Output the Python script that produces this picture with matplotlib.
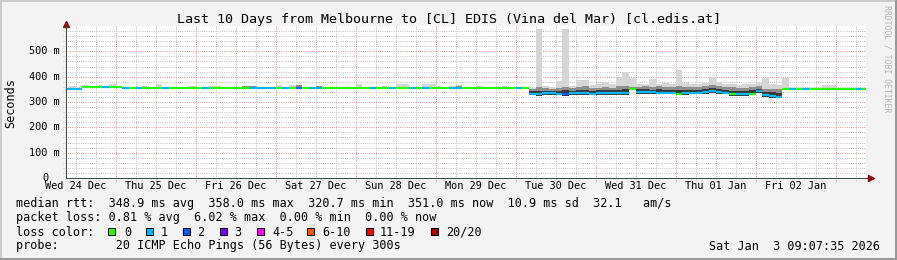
import numpy as np
import matplotlib
matplotlib.use("Agg")
import matplotlib.pyplot as plt
from matplotlib.patches import Rectangle
from matplotlib.transforms import blended_transform_factory

plt.rcParams['font.family'] = ['DejaVu Sans Mono']

W, H = 897, 260

# time axis: hours since Wed 24 Dec 00:00, one 2-hour bin per value
bin_start = np.arange(8, 250, 2)
t_start, t_end = 9.12, 249.12

day_hours = [12, 36, 60, 84, 108, 132, 156, 180, 204, 228]
day_labels = ['Wed 24 Dec', 'Thu 25 Dec', 'Fri 26 Dec', 'Sat 27 Dec', 'Sun 28 Dec',
              'Mon 29 Dec', 'Tue 30 Dec', 'Wed 31 Dec', 'Thu 01 Jan', 'Fri 02 Jan']

# median rtt per bin (ms)
median = [
    350, 350, 353, 358, 358, 358, 358, 358, 358, 355,
    355, 355, 355, 355, 355, 355, 355, 355, 355, 355,
    355, 355, 355, 355, 355, 355, 355, 355, 355, 355,
    355, 355, 355, 355, 355, 355, 355, 355, 355, 355,
    355, 355, 355, 355, 355, 355, 355, 355, 355, 355,
    355, 355, 355, 355, 355, 355, 355, 355, 355, 355,
    355, 355, 355, 355, 355, 355, 355, 355, 355, 355,
    333, 332, 334, 335, 333, 331, 335, 334, 336, 333,
    334, 336, 335, 336, 336, 351, 340, 339, 338, 337,
    337, 337, 333, 336, 337, 337, 338, 344, 340, 337,
    331, 331, 331, 333, 343, 326, 323, 321, 353, 353,
    353, 353, 353, 353, 353, 353, 353, 353, 353, 352,
    351,
]

# lost pings (of 20) per bin
loss = [
    1, 1, 1, 0, 0, 0, 1, 0, 0, 1,
    0, 1, 0, 0, 0, 1, 0, 0, 0, 0,
    0, 1, 0, 0, 0, 0, 0, 0, 1, 1,
    1, 1, 0, 1, 0, 2, 0, 1, 1, 0,
    0, 0, 0, 0, 0, 0, 1, 0, 0, 1,
    0, 0, 1, 0, 1, 0, 0, 0, 1, 1,
    0, 0, 0, 0, 0, 0, 0, 0, 1, 0,
    1, 1, 1, 1, 1, 2, 1, 1, 1, 1,
    1, 1, 1, 1, 1, 0, 1, 1, 1, 1,
    1, 1, 0, 1, 1, 1, 1, 1, 1, 1,
    0, 1, 1, 0, 1, 1, 1, 1, 0, 1,
    0, 1, 0, 0, 0, 0, 0, 0, 0, 1,
    0,
]

# smoke: lowest ping, upper edge of the dense part, highest ping (ms)
rtt_lo = [
    348, 348, 351, 356, 356, 356, 356, 356, 356, 353,
    353, 353, 353, 353, 353, 353, 353, 353, 353, 353,
    353, 353, 353, 353, 353, 353, 353, 353, 353, 353,
    353, 353, 353, 353, 353, 353, 353, 353, 353, 353,
    353, 353, 353, 353, 353, 353, 353, 353, 353, 353,
    353, 353, 353, 353, 353, 353, 353, 353, 353, 353,
    353, 353, 353, 353, 353, 353, 353, 353, 353, 353,
    326, 325, 327, 328, 326, 324, 328, 327, 329, 326,
    327, 329, 328, 329, 329, 346, 333, 332, 331, 330,
    330, 330, 326, 329, 330, 330, 331, 337, 333, 330,
    324, 324, 324, 326, 336, 319, 316, 314, 348, 351,
    351, 351, 351, 351, 351, 351, 351, 351, 351, 350,
    349,
]

rtt_p90 = [
    352, 352, 355, 360, 360, 360, 360, 360, 360, 357,
    357, 357, 357, 357, 357, 357, 357, 357, 357, 357,
    357, 357, 357, 357, 357, 357, 357, 364, 364, 357,
    357, 357, 357, 357, 357, 366, 357, 357, 364, 357,
    357, 357, 357, 357, 357, 357, 357, 357, 357, 357,
    357, 357, 357, 357, 357, 357, 357, 357, 357, 365,
    357, 357, 357, 357, 357, 357, 357, 357, 357, 357,
    350, 358, 355, 352, 356, 360, 355, 358, 362, 355,
    357, 360, 356, 362, 365, 360, 360, 362, 360, 362,
    358, 360, 365, 360, 358, 358, 362, 368, 362, 360,
    358, 357, 356, 360, 362, 350, 352, 350, 356, 355,
    355, 355, 355, 355, 355, 355, 355, 355, 355, 354,
    353,
]

rtt_hi = [
    354, 364, 357, 366, 362, 366, 362, 370, 362, 361,
    359, 359, 364, 359, 370, 359, 359, 359, 359, 365,
    359, 359, 365, 365, 359, 359, 359, 365, 365, 359,
    359, 359, 367, 359, 369, 367, 359, 359, 365, 359,
    359, 359, 359, 359, 370, 359, 359, 359, 365, 359,
    370, 370, 359, 359, 370, 370, 365, 359, 365, 366,
    359, 359, 365, 359, 359, 359, 365, 359, 359, 359,
    355, 590, 362, 360, 384, 590, 365, 387, 387, 368,
    370, 380, 372, 400, 420, 394, 370, 372, 391, 372,
    375, 370, 427, 375, 372, 370, 374, 398, 380, 372,
    370, 368, 370, 372, 375, 394, 370, 368, 396, 357,
    357, 357, 357, 357, 367, 367, 357, 357, 357, 356,
    355,
]

loss_labels = ['0', '1', '2', '3', '4-5', '6-10', '11-19', '20/20']
loss_colors = ['#26ff00', '#00b8ff', '#0059ff', '#7e00ff', '#ff00ff',
               '#ff5500', '#ff0000', '#a10000']

title = 'Last 10 Days from Melbourne to [CL] EDIS (Vina del Mar) [cl.edis.at]'
legend_rows = [
    'median rtt:  348.9 ms avg  358.0 ms max  320.7 ms min  351.0 ms now  10.9 ms sd  32.1   am/s',
    'packet loss: 0.81 % avg  6.02 % max  0.00 % min  0.00 % now',
    'loss color:',
    'probe:        20 ICMP Echo Pings (56 Bytes) every 300s',
]
stamp = 'Sat Jan  3 09:07:35 2026'

median = np.array(median, dtype=float)
rtt_lo = np.array(rtt_lo, dtype=float)
rtt_p90 = np.array(rtt_p90, dtype=float)
rtt_hi = np.array(rtt_hi, dtype=float)
edges = np.append(bin_start, bin_start[-1] + 2)

fig = plt.figure(figsize=(W / 100, H / 100), dpi=100, facecolor='#f3f3f3')
ax = fig.add_axes([66 / W, 1 - 178 / H, 800 / W, 152 / H])
ax.set_facecolor('white')
ax.set_xlim(t_start, t_end)
ax.set_ylim(0, 600)

grid_minor = '#c4c4c4'
grid_major = '#dc9c9c'
axis_col = '#3a4a44'
arrow_col = '#8b1010'

# grid, drawn a few pixels past the axes like rrdtool does
for h in range(12, 249, 6):
    ax.axvline(h, ymin=-3 / 152, ymax=1, color=grid_major if h % 24 == 0 else grid_minor,
               lw=0.72, ls=(0, (1, 1.2)), zorder=0.5, clip_on=False)
for v in range(20, 600, 20):
    ax.axhline(v, xmin=-3 / 800, xmax=1, color=grid_major if v % 100 == 0 else grid_minor,
               lw=0.72, ls=(0, (1, 1.2)), zorder=0.5, clip_on=False)

# smoke
dark_top = median + 0.5 * (rtt_p90 - median)
ax.stairs(rtt_hi, edges, baseline=rtt_lo, fill=True, color='#d6d6d6', lw=0, zorder=1)
ax.stairs(rtt_p90, edges, baseline=rtt_lo, fill=True, color='#8e8e8e', lw=0, zorder=1.1)
ax.stairs(dark_top, edges, baseline=rtt_lo, fill=True, color='#383838', lw=0, zorder=1.2)

# median coloured by loss
med = ax.hlines(median, edges[:-1], edges[1:], colors=[loss_colors[l] for l in loss],
                lw=1.6, zorder=3)
med.set_capstyle('butt')

# axes
for s in ['top', 'right']:
    ax.spines[s].set_visible(False)
for s in ['left', 'bottom']:
    ax.spines[s].set_color(axis_col)
    ax.spines[s].set_linewidth(0.72)
    ax.spines[s].set_zorder(4)
ax.plot([1, 1 + 4 / 800], [0, 0], transform=ax.transAxes, color=axis_col, lw=0.72, clip_on=False)
ax.plot([1 + 5 / 800], [0], marker='>', ms=4, color=arrow_col, mec=arrow_col,
        transform=ax.transAxes, clip_on=False)
ax.plot([0, 0], [1, 1 + 1 / 152], transform=ax.transAxes, color=axis_col, lw=0.72, clip_on=False)
ax.plot([0], [1 + 2 / 152], marker='^', ms=4, color=arrow_col, mec=arrow_col,
        transform=ax.transAxes, clip_on=False)

ax.set_xticks(day_hours, day_labels, fontsize=7.4)
ax.tick_params(axis='x', length=0, pad=2.5)
ax.set_yticks([])
ytrans = blended_transform_factory(ax.transAxes, ax.transData)
for v in [100, 200, 300, 400, 500]:
    ax.text(-6 / 800, v, f'{v} m', transform=ytrans, ha='right', va='center', fontsize=7.4)
ax.text(-18 / 800, 0, '0', transform=ytrans, ha='right', va='center', fontsize=7.4)

# texts
fig.text(0.5, 1 - 19 / H, title, ha='center', va='center', fontsize=9.6)
fig.text(11 / W, 1 - 103 / H, 'Seconds', rotation=90, ha='center', va='center', fontsize=8.5)
fig.text(887 / W, 1 - 59 / H, 'RRDTOOL / TOBI OETIKER', rotation=270, ha='center',
         va='center', fontsize=5.9, color='#b4b4b4')
for i, row in enumerate(legend_rows):
    fig.text(16 / W, 1 - (204 + 14 * i) / H, row, ha='left', va='center', fontsize=8.5)
fig.text(880 / W, 1 - 246 / H, stamp, ha='right', va='center', fontsize=8.5)

box_x = [108, 146, 183, 220, 257, 307, 366, 431]
label_x = [124, 161, 197, 234, 272, 322, 380, 446]
for bx, lx, lab, col in zip(box_x, label_x, loss_labels, loss_colors):
    fig.add_artist(Rectangle((bx / W, 1 - 235 / H), 7 / W, 7 / H, facecolor=col,
                             edgecolor='black', lw=0.72, transform=fig.transFigure))
    fig.text(lx / W, 1 - 232 / H, lab, ha='left', va='center', fontsize=8.5)

# 3d frame
fig.add_artist(Rectangle((0, 1 - 2 / H), 1, 2 / H, transform=fig.transFigure, color='#cbcbcb', lw=0))
fig.add_artist(Rectangle((0, 0), 2 / W, 1, transform=fig.transFigure, color='#cbcbcb', lw=0))
fig.add_artist(Rectangle((0, 0), 1, 2 / H, transform=fig.transFigure, color='#999999', lw=0))
fig.add_artist(Rectangle((1 - 2 / W, 0), 2 / W, 1, transform=fig.transFigure, color='#999999', lw=0))

fig.savefig('out.png', dpi=100, facecolor=fig.get_facecolor())
